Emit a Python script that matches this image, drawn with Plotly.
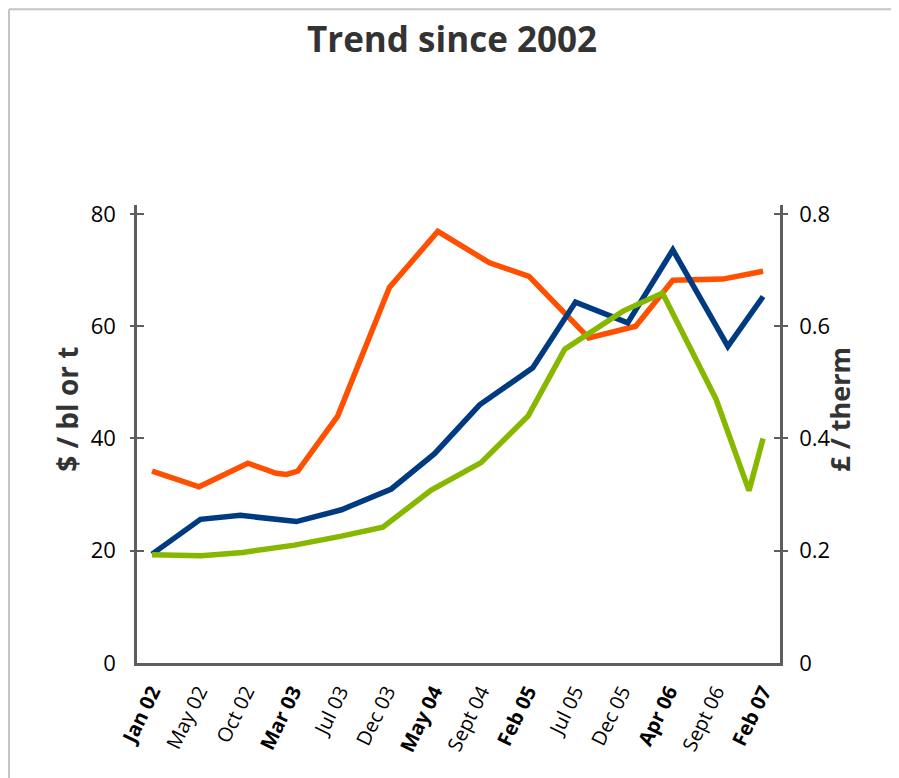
import plotly.graph_objects as go

# ---- data ----
tick_labels = ["<b>Jan 02</b>", "May 02", "Oct 02", "<b>Mar 03</b>", "Jul 03", "Dec 03",
               "<b>May 04</b>", "Sept 04", "<b>Feb 05</b>", "Jul 05", "Dec 05",
               "<b>Apr 06</b>", "Sept 06", "<b>Feb 07</b>"]
tick_pos = list(range(len(tick_labels)))

orange_x = [0, 1.0, 2.04, 2.64, 2.86, 3.10, 3.95, 5.05, 6.08, 7.18, 8.02, 9.29, 10.29, 11.08, 12.14, 13.0]
orange_y = [34.2, 31.4, 35.6, 33.8, 33.6, 34.2, 44.0, 66.9, 76.9, 71.3, 68.9, 57.9, 60.0, 68.2, 68.4, 69.8]

blue_x = [0, 1.03, 1.88, 3.07, 4.03, 5.09, 6.01, 6.97, 8.10, 9.01, 10.12, 11.08, 12.25, 13.0]
blue_y = [19.4, 25.6, 26.3, 25.2, 27.3, 31.0, 37.3, 46.0, 52.6, 64.3, 60.6, 73.6, 56.4, 65.3]

green_x = [0, 1.05, 1.93, 3.03, 4.03, 4.91, 5.94, 7.0, 8.0, 8.78, 10.02, 10.86, 12.0, 12.70, 13.0]
green_y = [0.193, 0.191, 0.197, 0.210, 0.226, 0.242, 0.308, 0.357, 0.440, 0.559, 0.627, 0.659, 0.470, 0.307, 0.400]

left_ticks = [0, 20, 40, 60, 80]
right_ticks = [0, 0.2, 0.4, 0.6, 0.8]
right_tick_text = ["0", "0.2", "0.4", "0.6", "0.8"]
cross_left = [20, 40, 60, 80]
cross_right = [0.2, 0.4, 0.6, 0.8]

ORANGE = "#FF5000"
BLUE = "#003A80"
GREEN = "#86B800"
AXIS = "#5E5E5E"
FONT = "Open Sans"

# the page body adds an 8px offset; figure coordinates below are page - 8
W, H = 899, 778
L, T = 129, 197
PW, PH = 643, 458.5
R = W - L - PW
B = H - T - PH

def px(xp):
    return (xp - 8 - L) / PW

def py(yp):
    return (T + PH - (yp - 8)) / PH

fig = go.Figure()
fig.add_trace(go.Scatter(x=orange_x, y=orange_y, mode="lines",
                         line=dict(color=ORANGE, width=5.5), yaxis="y", showlegend=False))
fig.add_trace(go.Scatter(x=blue_x, y=blue_y, mode="lines",
                         line=dict(color=BLUE, width=5.5), yaxis="y", showlegend=False))
fig.add_trace(go.Scatter(x=green_x, y=green_y, mode="lines",
                         line=dict(color=GREEN, width=5.5), yaxis="y2", showlegend=False))
# invisible traces so the tick-cross axes get drawn
fig.add_trace(go.Scatter(x=[None], y=[None], yaxis="y3", showlegend=False, hoverinfo="skip"))
fig.add_trace(go.Scatter(x=[None], y=[None], yaxis="y4", showlegend=False, hoverinfo="skip"))

yr = [0, 81.6]
fig.update_layout(
    width=W, height=H, autosize=False,
    margin=dict(l=L, r=R, t=T, b=B),
    paper_bgcolor="white", plot_bgcolor="white",
    font=dict(family=FONT, color="black"),
    title=dict(text="<b>Trend since 2002</b>", font=dict(size=35, color="#333333", family=FONT),
               xref="container", x=(452 - 8) / W, xanchor="center",
               yref="container", y=1 - (40 - 8) / H, yanchor="middle"),
    xaxis=dict(range=[-0.32, 13.36], tickmode="array", tickvals=tick_pos, ticktext=tick_labels,
               tickangle=-64, tickfont=dict(size=20, family=FONT, color="black"),
               showline=True, linecolor=AXIS, linewidth=3, ticks="", ticklabelstandoff=6,
               showgrid=False, zeroline=False, domain=[0, 1]),
    yaxis=dict(range=yr, tickmode="array", tickvals=left_ticks, ticks="",
               tickfont=dict(size=22, family=FONT, color="black"), ticklabelstandoff=14,
               showline=True, linecolor=AXIS, linewidth=2.5, showgrid=False, zeroline=False),
    yaxis2=dict(range=[v / 100 for v in yr], overlaying="y", side="right", tickmode="array",
                tickvals=right_ticks, ticktext=right_tick_text, ticks="",
                tickfont=dict(size=22, family=FONT, color="black"), ticklabelstandoff=12,
                showline=True, linecolor=AXIS, linewidth=2.5, showgrid=False, zeroline=False),
    yaxis3=dict(range=yr, overlaying="y", side="left", anchor="free", position=7 / PW,
                tickmode="array", tickvals=cross_left, ticks="outside", ticklen=14, tickwidth=1.5,
                tickcolor=AXIS, showticklabels=False, showline=False, showgrid=False, zeroline=False),
    yaxis4=dict(range=[v / 100 for v in yr], overlaying="y", side="right", anchor="free",
                position=1 - 7 / PW, tickmode="array", tickvals=cross_right, ticks="outside",
                ticklen=14, tickwidth=1.5, tickcolor=AXIS, showticklabels=False,
                showline=False, showgrid=False, zeroline=False),
    annotations=[
        dict(text="<b>$ / bl or t</b>", xref="paper", yref="paper",
             x=px(67), y=py(410), textangle=-90, showarrow=False,
             xanchor="center", yanchor="middle", font=dict(size=28, family=FONT, color="#333333")),
        dict(text="<b>£ / therm</b>", xref="paper", yref="paper",
             x=px(840), y=py(410), textangle=-90, showarrow=False,
             xanchor="center", yanchor="middle", font=dict(size=27, family=FONT, color="#333333")),
    ],
    shapes=[
        dict(type="line", xref="paper", yref="paper", x0=px(9), x1=2,
             y0=py(9), y1=py(9), line=dict(color="#C4C4C4", width=2)),
        dict(type="line", xref="paper", yref="paper", x0=px(9), x1=px(9),
             y0=py(9), y1=-0.6, line=dict(color="#C4C4C4", width=2)),
    ],
)

fig.write_html("out.html")
